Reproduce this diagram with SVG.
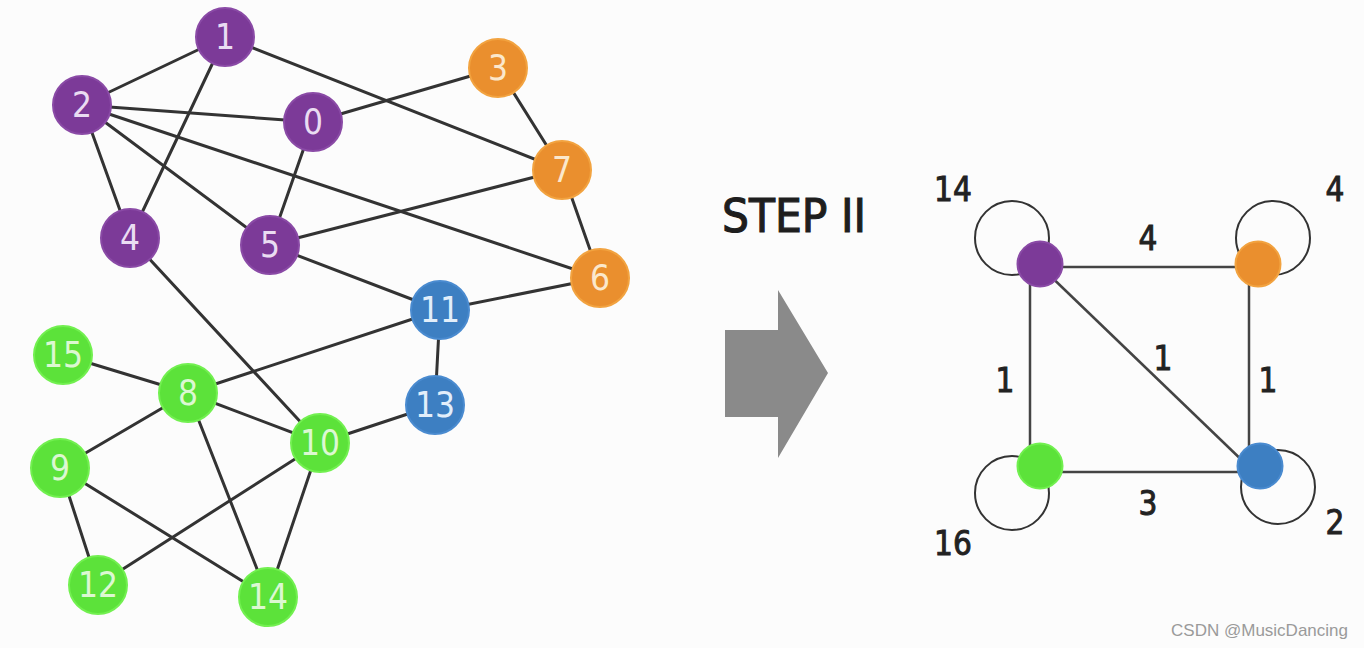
<svg xmlns="http://www.w3.org/2000/svg" width="1364" height="648" viewBox="0 0 1364 648">
<style>
.bg{fill:#fcfcfc}
.e{stroke:#333;stroke-width:3;stroke-linecap:round}
.e2{stroke:#444;stroke-width:2.5;fill:none}
.loop{stroke:#333;stroke-width:2;fill:none}
.n circle{stroke-width:2}
.p circle{fill:#7c3a98;stroke:#8a4aa6}
.o circle{fill:#ea8f2e;stroke:#f2a340}
.b circle{fill:#3d7fc2;stroke:#4a8bd0}
.g circle{fill:#5ce23a;stroke:#72f050}
.n text{font-family:"DejaVu Sans Condensed","DejaVu Sans",sans-serif;font-stretch:condensed;font-size:35px;text-anchor:middle;dominant-baseline:central}
.p text{fill:#eadcf2}
.o text{fill:#fbe8cc}
.b text{fill:#e2eefa}
.g text{fill:#dcf8d2}
.lbl{font-family:"DejaVu Sans Condensed","DejaVu Sans",sans-serif;font-stretch:condensed;font-size:33px;fill:#222;stroke:#222;stroke-width:0.9;text-anchor:middle}
</style>
<rect class="bg" x="0" y="0" width="1364" height="648"/>

<g id="connectors">
<line class="e" x1="225" y1="37" x2="82" y2="105"/>
<line class="e" x1="225" y1="37" x2="130" y2="238"/>
<line class="e" x1="225" y1="37" x2="562" y2="170"/>
<line class="e" x1="82" y1="105" x2="313" y2="122"/>
<line class="e" x1="82" y1="105" x2="130" y2="238"/>
<line class="e" x1="82" y1="105" x2="270" y2="245"/>
<line class="e" x1="82" y1="105" x2="600" y2="278"/>
<line class="e" x1="313" y1="122" x2="498" y2="68"/>
<line class="e" x1="313" y1="122" x2="270" y2="245"/>
<line class="e" x1="498" y1="68" x2="562" y2="170"/>
<line class="e" x1="562" y1="170" x2="270" y2="245"/>
<line class="e" x1="562" y1="170" x2="600" y2="278"/>
<line class="e" x1="270" y1="245" x2="440" y2="310"/>
<line class="e" x1="600" y1="278" x2="440" y2="310"/>
<line class="e" x1="130" y1="238" x2="320" y2="443"/>
<line class="e" x1="440" y1="310" x2="188" y2="393"/>
<line class="e" x1="440" y1="310" x2="435" y2="405"/>
<line class="e" x1="435" y1="405" x2="320" y2="443"/>
<line class="e" x1="63" y1="355" x2="188" y2="393"/>
<line class="e" x1="188" y1="393" x2="60" y2="468"/>
<line class="e" x1="188" y1="393" x2="320" y2="443"/>
<line class="e" x1="188" y1="393" x2="268" y2="597"/>
<line class="e" x1="60" y1="468" x2="98" y2="585"/>
<line class="e" x1="60" y1="468" x2="268" y2="597"/>
<line class="e" x1="320" y1="443" x2="98" y2="585"/>
<line class="e" x1="320" y1="443" x2="268" y2="597"/>

<circle class="loop" cx="1012" cy="238" r="37"/>
<circle class="loop" cx="1273" cy="238" r="37"/>
<circle class="loop" cx="1012" cy="493" r="37"/>
<circle class="loop" cx="1278" cy="487" r="37"/>
<line class="e2" x1="1040" y1="267" x2="1258" y2="267"/>
<line class="e2" x1="1030" y1="265" x2="1030" y2="466"/>
<line class="e2" x1="1249" y1="265" x2="1249" y2="466"/>
<line class="e2" x1="1040" y1="472" x2="1258" y2="472"/>
<line class="e2" x1="1040" y1="266" x2="1250" y2="468"/>
</g>

<g id="n1" class="n p"><circle cx="225" cy="37" r="29"/><text x="225" y="37">1</text></g>
<g id="n2" class="n p"><circle cx="82" cy="105" r="29"/><text x="82" y="105">2</text></g>
<g id="n0" class="n p"><circle cx="313" cy="122" r="29"/><text x="313" y="122">0</text></g>
<g id="n4" class="n p"><circle cx="130" cy="238" r="29"/><text x="130" y="238">4</text></g>
<g id="n5" class="n p"><circle cx="270" cy="245" r="29"/><text x="270" y="245">5</text></g>
<g id="n3" class="n o"><circle cx="498" cy="68" r="29"/><text x="498" y="68">3</text></g>
<g id="n7" class="n o"><circle cx="562" cy="170" r="29"/><text x="562" y="170">7</text></g>
<g id="n6" class="n o"><circle cx="600" cy="278" r="29"/><text x="600" y="278">6</text></g>
<g id="n11" class="n b"><circle cx="440" cy="310" r="29"/><text x="440" y="310">11</text></g>
<g id="n13" class="n b"><circle cx="435" cy="405" r="29"/><text x="435" y="405">13</text></g>
<g id="n15" class="n g"><circle cx="63" cy="355" r="29"/><text x="63" y="355">15</text></g>
<g id="n8" class="n g"><circle cx="188" cy="393" r="29"/><text x="188" y="393">8</text></g>
<g id="n9" class="n g"><circle cx="60" cy="468" r="29"/><text x="60" y="468">9</text></g>
<g id="n10" class="n g"><circle cx="320" cy="443" r="29"/><text x="320" y="443">10</text></g>
<g id="n12" class="n g"><circle cx="98" cy="585" r="29"/><text x="98" y="585">12</text></g>
<g id="n14" class="n g"><circle cx="268" cy="597" r="29"/><text x="268" y="597">14</text></g>

<g id="step">
<text x="722" y="232" font-family="'DejaVu Sans','Liberation Sans',sans-serif" font-size="47" fill="#1e1e1e" stroke="#1e1e1e" stroke-width="1.2" textLength="144" lengthAdjust="spacingAndGlyphs">STEP II</text>
<polygon points="725,330 778,330 778,290 828,373 778,458 778,417 725,417" fill="#8a8a8a"/>
</g>

<g id="m-purple" class="n p"><circle cx="1040" cy="264" r="22.5"/></g>
<g id="m-orange" class="n o"><circle cx="1258" cy="264" r="22.5"/></g>
<g id="m-green" class="n g"><circle cx="1040" cy="466" r="22.5"/></g>
<g id="m-blue" class="n b"><circle cx="1260" cy="466" r="22.5"/></g>

<g id="labels">
<text class="lbl" x="953" y="201">14</text>
<text class="lbl" x="1335" y="201">4</text>
<text class="lbl" x="1148" y="250">4</text>
<text class="lbl" x="1005" y="392">1</text>
<text class="lbl" x="1163" y="370">1</text>
<text class="lbl" x="1268" y="392">1</text>
<text class="lbl" x="1148" y="515">3</text>
<text class="lbl" x="953" y="555">16</text>
<text class="lbl" x="1335" y="534">2</text>
</g>

<text x="1348" y="636" text-anchor="end" font-family="'Liberation Sans',sans-serif" font-size="17" fill="#9a9a9a">CSDN @MusicDancing</text>
</svg>
